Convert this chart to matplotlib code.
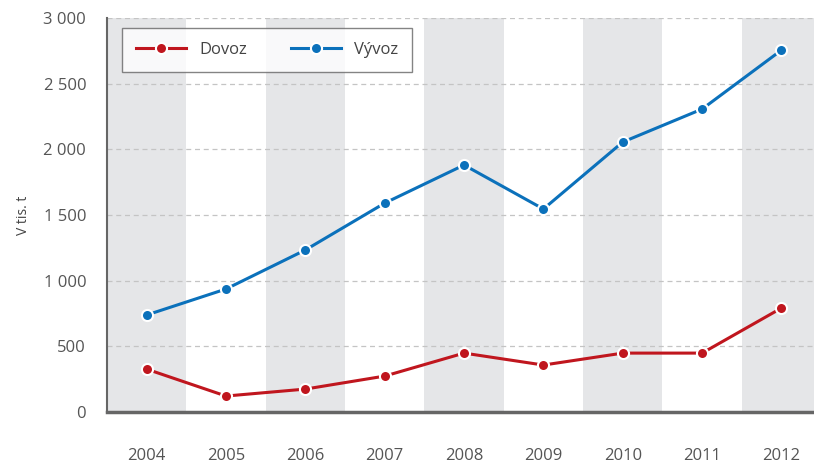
import numpy as np
import matplotlib
matplotlib.use("Agg")
import matplotlib.pyplot as plt

years = ["2004", "2005", "2006", "2007", "2008", "2009", "2010", "2011", "2012"]
dovoz = [327, 122, 175, 274, 449, 358, 449, 449, 792]
vyvoz = [739, 937, 1234, 1591, 1881, 1546, 2056, 2307, 2756]
yticks = [0, 500, 1000, 1500, 2000, 2500, 3000]
ytick_labels = ["0", "500", "1 000", "1 500", "2 000", "2 500", "3 000"]

plt.rcParams['font.family'] = ['Open Sans', 'DejaVu Sans']

fig = plt.figure(figsize=(8.14, 4.63), dpi=100)
ax = fig.add_axes([0.1314, 0.110, 0.8686, 0.851])

x = np.arange(len(years))
# grey bands behind every other year
for i in x[::2]:
    ax.axvspan(i - 0.5, i + 0.5, color="#e5e6e8", lw=0, zorder=0)

for y in yticks[1:]:
    ax.axhline(y, color="#c4c4c4", lw=0.9, ls=(0, (4, 3)), zorder=1)

ax.plot(x, dovoz, color="#c0161e", lw=2.2, marker="o", ms=8,
        mec="white", mew=1.5, label="Dovoz", zorder=3)
ax.plot(x, vyvoz, color="#0b71bb", lw=2.2, marker="o", ms=8,
        mec="white", mew=1.5, label="Vývoz", zorder=3)

ax.set_xlim(-0.5, 8.41)
ax.set_ylim(0, 3000)
ax.set_xticks(x)
ax.set_xticklabels(years)
ax.set_yticks(yticks)
ax.set_yticklabels(ytick_labels)
ax.tick_params(axis="x", length=0, pad=26, labelsize=12, colors="#555555")
ax.tick_params(axis="y", length=0, pad=15, labelsize=12, colors="#555555")

for s in ["top", "right"]:
    ax.spines[s].set_visible(False)
ax.spines["left"].set_color("#666666")
ax.spines["left"].set_linewidth(1.5)
ax.spines["bottom"].set_color("#666666")
ax.spines["bottom"].set_linewidth(2.5)

ax.set_ylabel("V tis. t", fontsize=10, color="#444444", labelpad=9)

leg = ax.legend(loc="upper left", bbox_to_anchor=(0.0212, 0.9746), ncol=2,
                frameon=True, fancybox=False, fontsize=12, borderaxespad=0,
                handlelength=3.0, columnspacing=2.6, borderpad=0.85,
                handletextpad=0.8, labelcolor="#444444")
leg.get_frame().set_edgecolor("#666666")
leg.get_frame().set_linewidth(1.0)

fig.savefig("out.png", dpi=100)
